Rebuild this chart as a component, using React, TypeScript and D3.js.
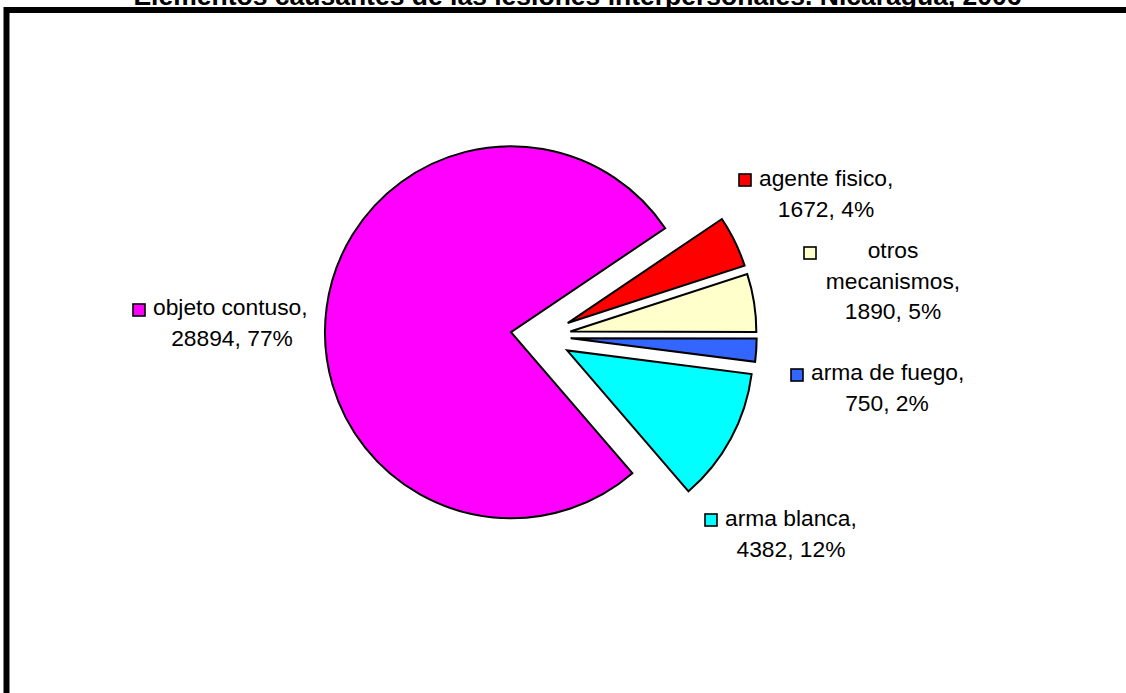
import React from "react";
import * as d3 from "d3";

const categories = ["agente fisico", "otros mecanismos", "arma de fuego", "arma blanca", "objeto contuso"];
const values = [1672, 1890, 750, 4382, 28894];
const percents = ["4%", "5%", "2%", "12%", "77%"];
const colors = ["#FF0000", "#FFFFCC", "#3366FF", "#00FFFF", "#FF00FF"];
const title = "Elementos causantes de las lesiones interpersonales. Nicaragua, 2006";

// label layout (text lines are built from the data above)
const labelLayout = [
  { cx: 826, y: 186, lines: (c: string, v: number, p: string) => [`${c},`, `${v}, ${p}`], mx: 738, my: 173 },
  { cx: 893, y: 258, lines: (c: string, v: number, p: string) => [c.split(" ")[0], `${c.split(" ")[1]},`, `${v}, ${p}`], mx: 803, my: 246 },
  { cx: 887, y: 380, lines: (c: string, v: number, p: string) => [`${c},`, `${v}, ${p}`], mx: 790, my: 368 },
  { cx: 791, y: 526, lines: (c: string, v: number, p: string) => [`${c},`, `${v}, ${p}`], mx: 704, my: 513 },
  { cx: 232, y: 315, lines: (c: string, v: number, p: string) => [`${c},`, `${v}, ${p}`], mx: 132, my: 303 },
];

const W = 1126;
const H = 693;
const CX = 540.7;
const CY = 336.2;
const R = 186;
const EXPLODE = 30;
const START = (56 * Math.PI) / 180;

export default function App() {
  const pie = d3
    .pie<number>()
    .sort(null)
    .value((d) => d)
    .startAngle(START)
    .endAngle(START + 2 * Math.PI);
  const arcs = pie(values);
  const arc = d3.arc<d3.PieArcDatum<number>>().innerRadius(0).outerRadius(R);
  const font = "'Liberation Sans', Arial, sans-serif";

  return (
    <svg
      width={W}
      height={H}
      style={{ position: "absolute", left: 0, top: 0, background: "#fff" }}
    >
      <rect x={0} y={0} width={W} height={H} fill="#fff" />
      <rect x={6.5} y={10} width={W + 20} height={H + 20} fill="none" stroke="#000" strokeWidth={6} />
      <text
        x={577.5}
        y={5}
        textAnchor="middle"
        fontFamily={font}
        fontWeight="bold"
        fontSize={26.5}
        fill="#000"
      >
        {title}
      </text>
      <g transform={`translate(${CX},${CY})`}>
        {arcs.map((a, i) => {
          const mid = (a.startAngle + a.endAngle) / 2;
          const dx = EXPLODE * Math.sin(mid);
          const dy = -EXPLODE * Math.cos(mid);
          return (
            <path
              key={i}
              d={arc(a) || ""}
              transform={`translate(${dx},${dy})`}
              fill={colors[i]}
              stroke="#000"
              strokeWidth={2}
              strokeLinejoin="miter"
            />
          );
        })}
      </g>
      {categories.map((c, i) => {
        const L = labelLayout[i];
        const lines = L.lines(c, values[i], percents[i]);
        return (
          <g key={c}>
            <rect x={L.mx + 1} y={L.my + 1} width={12} height={12} fill={colors[i]} stroke="#000" strokeWidth={1.6} />
            {lines.map((ln, j) => {
              const first = j === 0 && lines.length === 2;
              return (
                <text
                  key={j}
                  x={first ? L.mx + 21 : L.cx}
                  y={L.y + j * 30.5}
                  textAnchor={first ? "start" : "middle"}
                  fontFamily={font}
                  fontSize={22.8}
                  fill="#000"
                >
                  {ln}
                </text>
              );
            })}
          </g>
        );
      })}
    </svg>
  );
}
